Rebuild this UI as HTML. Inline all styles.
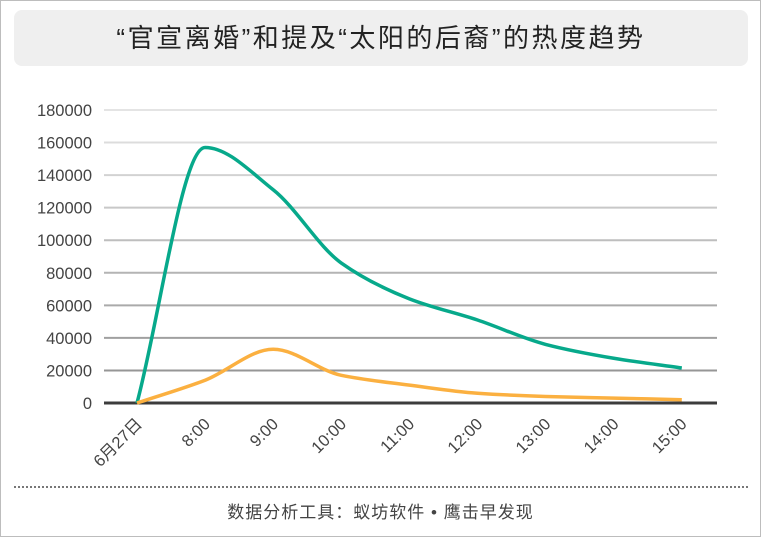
<!DOCTYPE html>
<html><head><meta charset="utf-8"><style>
body{margin:0;width:761px;height:537px;background:#fff;font-family:"Liberation Sans","Noto Sans CJK SC",sans-serif;overflow:hidden}
#frame{position:absolute;left:0;top:0;width:759px;height:535px;border:1px solid #bdbdbd}
#title{position:absolute;left:14px;top:10px;width:734px;height:56px;background:#efefef;border-radius:8px;text-align:center;line-height:56px;font-size:26px;letter-spacing:2.5px;color:#222}
#dots{position:absolute;left:14px;top:486px;width:734px;border-top:2px dotted #777}
#foot{position:absolute;left:0;top:498px;width:761px;text-align:center;font-size:17px;letter-spacing:1px;color:#444}
svg{position:absolute;left:0;top:0}
</style></head><body>
<div id="frame"></div>
<div id="title">“官宣离婚”和提及“太阳的后裔”的热度趋势</div>
<svg id="chart" width="761" height="537"></svg>
<div id="dots"></div>
<div id="foot">数据分析工具：蚁坊软件 • 鹰击早发现</div>
<script>
const categories=["6月27日","8:00","9:00","10:00","11:00","12:00","13:00","14:00","15:00"];
const seriesA=[0,157000,131000,86000,64000,51000,36000,27500,21500];
const seriesB=[0,14000,33000,17000,11000,6000,4000,3000,2000];
const yTicks=[0,20000,40000,60000,80000,100000,120000,140000,160000,180000];
const svg=document.getElementById('chart');
const NS="http://www.w3.org/2000/svg";
const x0=104,x1=717,yb=403,yt=110,ymax=180000;
const y=v=>yb-(v/ymax)*(yb-yt);
const step=68.1;
const x=i=>137+i*step;
function mk(t,a){const e=document.createElementNS(NS,t);for(const k in a)e.setAttribute(k,a[k]);svg.appendChild(e);return e;}
yTicks.forEach((v,i)=>{
  const shade=[60,150,160,170,180,190,200,210,220,228][i];
  if(i>0){const l=mk('line',{x1:x0,x2:x1,y1:y(v),y2:y(v),stroke:`rgb(${shade},${shade},${shade})`,'stroke-width':2});
  }
  const t=mk('text',{x:92,y:y(v)+6,'text-anchor':'end','font-size':16.5,fill:'#444'});
  
  t.textContent=v;
});
const ax=mk('line',{x1:x0,x2:x1,y1:yb,y2:yb,stroke:'#3c3c3c','stroke-width':3});

categories.forEach((c,i)=>{
  const t=mk('text',{x:x(i)+6,y:yb+22,'text-anchor':'end','font-size':16.5,fill:'#444',transform:`rotate(-45 ${x(i)+6} ${yb+22})`});
  
  t.textContent=c;
});
function monotone(vals){
  const n=vals.length,px=vals.map((v,i)=>x(i)),py=vals.map(v=>y(v));
  const d=[],m=[];
  for(let i=0;i<n-1;i++)d.push((py[i+1]-py[i])/(px[i+1]-px[i]));
  for(let i=0;i<n;i++){
    if(i==0)m.push(d[0]);else if(i==n-1)m.push(d[n-2]);
    else m.push(d[i-1]*d[i]<=0?0:2/(1/d[i-1]+1/d[i]));
  }
  let p=`M${px[0]},${py[0]}`;
  for(let i=0;i<n-1;i++){const h=(px[i+1]-px[i])/3;
    p+=` C${px[i]+h},${py[i]+m[i]*h} ${px[i+1]-h},${py[i+1]-m[i+1]*h} ${px[i+1]},${py[i+1]}`;}
  return p;
}
const la=mk('path',{d:monotone(seriesA),fill:'none',stroke:'#07a98b','stroke-width':3.5,'stroke-linejoin':'round'});

const lb=mk('path',{d:monotone(seriesB),fill:'none',stroke:'#fbb040','stroke-width':3.5,'stroke-linejoin':'round'});

</script>
</body></html>
